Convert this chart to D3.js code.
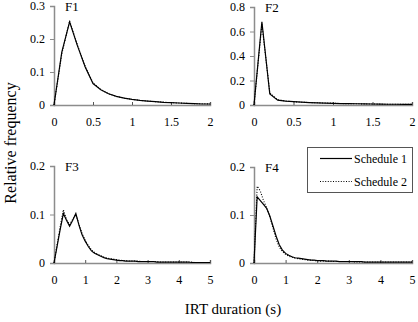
<!DOCTYPE html>
<html><head><meta charset="utf-8">
<script src="https://cdn.jsdelivr.net/npm/d3@7"></script>
<style>body{margin:0;background:#fff}svg{display:block}svg text{font-family:'Liberation Serif','Times New Roman',Times,'DejaVu Serif',serif !important}</style>
</head><body>
<svg id="c" width="418" height="322"></svg>
<script>
const panelNames = ["F1","F2","F3","F4"];
const xMax = [2, 2, 5, 5];
const yMax = [0.3, 0.8, 0.2, 0.2];
const xTicks = [[0,0.5,1,1.5,2],[0,0.5,1,1.5,2],[0,1,2,3,4,5],[0,1,2,3,4,5]];
const yTicks = [[0,0.1,0.2,0.3],[0,0.2,0.4,0.6,0.8],[0,0.1,0.2],[0,0.1,0.2]];
const seriesNames = ["Schedule 1","Schedule 2"];
// bin centers: step 0.1
const f1s1 = [0,0.16,0.252,0.18,0.115,0.065,0.046,0.034,0.026,0.021,0.017,0.014,0.012,0.01,0.008,0.007,0.006,0.005,0.004,0.003,0.003];
const f1s2 = [0,0.155,0.255,0.182,0.117,0.067,0.047,0.034,0.026,0.021,0.017,0.014,0.012,0.01,0.009,0.007,0.006,0.005,0.004,0.004,0.003];
const f2s1 = [0,0.68,0.09,0.04,0.032,0.027,0.023,0.02,0.018,0.016,0.014,0.012,0.011,0.01,0.009,0.008,0.007,0.006,0.006,0.005,0.005];
const f2s2 = [0,0.66,0.1,0.042,0.033,0.027,0.023,0.02,0.018,0.016,0.015,0.012,0.011,0.01,0.009,0.008,0.007,0.006,0.006,0.005,0.005];
const f3s1 = [0,0.035,0.07,0.102,0.088,0.076,0.088,0.102,0.078,0.058,0.045,0.034,0.025,0.02,0.017,0.014,0.011,0.009,0.008,0.007,0.006,
  0.005,0.005,0.004,0.004,0.004,0.004,0.003,0.003,0.003,0.003,0.003,0.003,0.002,0.002,0.002,0.002,0.002,0.002,0.002,0.002,
  0.002,0.002,0.002,0.001,0.001,0.001,0.001,0.001,0.001,0.001];
const f3s2 = [0,0.038,0.075,0.11,0.09,0.079,0.09,0.1,0.08,0.061,0.047,0.036,0.027,0.022,0.018,0.015,0.012,0.01,0.009,0.008,0.007,
  0.006,0.005,0.005,0.004,0.004,0.004,0.004,0.003,0.003,0.003,0.003,0.003,0.003,0.002,0.002,0.002,0.002,0.002,0.002,0.002,
  0.002,0.002,0.002,0.002,0.001,0.001,0.001,0.001,0.001,0.001];
const f4s1 = [0,0.138,0.13,0.122,0.114,0.098,0.077,0.056,0.038,0.027,0.02,0.016,0.013,0.011,0.01,0.009,0.008,0.007,0.006,0.006,0.005,
  0.005,0.005,0.004,0.004,0.004,0.004,0.003,0.003,0.003,0.003,0.003,0.003,0.003,0.003,0.002,0.002,0.002,0.002,0.002,0.002,
  0.002,0.002,0.002,0.002,0.002,0.002,0.002,0.002,0.002,0.002];
const f4s2 = [0,0.16,0.15,0.13,0.115,0.097,0.073,0.05,0.033,0.024,0.018,0.014,0.012,0.01,0.009,0.008,0.007,0.006,0.006,0.005,0.005,
  0.004,0.004,0.004,0.004,0.003,0.003,0.003,0.003,0.003,0.003,0.003,0.002,0.002,0.002,0.002,0.002,0.002,0.002,0.002,0.002,
  0.002,0.002,0.002,0.002,0.002,0.002,0.002,0.002,0.002,0.002];
const panelData = [[f1s1,f1s2],[f2s1,f2s2],[f3s1,f3s2],[f4s1,f4s2]];
const binStep = 0.1;

const FONT = "'Liberation Serif','Times New Roman',Times,'DejaVu Serif',serif";
const svg = d3.select("#c").attr("font-family", FONT);
const boxes = [
  {x0:54,x1:210,y0:105,y1:6},
  {x0:254,x1:412,y0:105,y1:7},
  {x0:54,x1:210,y0:263,y1:166},
  {x0:254,x1:412,y0:263,y1:167}
];
const axisCol = "#8c8c8c";

panelNames.forEach((name,i)=>{
  const b = boxes[i];
  const x = d3.scaleLinear().domain([0,xMax[i]]).range([b.x0,b.x1]);
  const y = d3.scaleLinear().domain([0,yMax[i]]).range([b.y0,b.y1]);
  const g = svg.append("g");
  const ya = g.append("g").attr("transform",`translate(${b.x0},0)`)
    .call(d3.axisLeft(y).tickValues(yTicks[i]).tickSize(4).tickPadding(5).tickFormat(d3.format("")));
  ya.attr("font-family", FONT);
  ya.select(".domain").attr("stroke",axisCol).attr("stroke-width",1.5);
  ya.selectAll(".tick line").attr("stroke",axisCol);
  ya.selectAll("text").attr("font-size",12).attr("fill","#000").attr("font-family",FONT);
  const xa = g.append("g").attr("transform",`translate(0,${b.y0})`)
    .call(d3.axisBottom(x).tickValues(xTicks[i]).tickSize(-3).tickPadding(12).tickFormat(d3.format("")));
  xa.attr("font-family", FONT);
  xa.select(".domain").attr("stroke",axisCol).attr("stroke-width",1.5);
  xa.selectAll(".tick line").attr("stroke","#555");
  xa.selectAll("text").attr("font-size",12).attr("fill","#000").attr("font-family",FONT);
  const line = d3.line().x((d,k)=>x(k*binStep)).y(d=>y(d));
  panelData[i].forEach((arr,s)=>{
    g.append("path").datum(arr).attr("d",line).attr("fill","none")
      .attr("stroke","#000").attr("stroke-width",s===0?1.2:1.1)
      .attr("stroke-dasharray",s===0?null:"1,1.6");
  });
  g.append("text").attr("x",b.x0+11).attr("y",b.y1+5).attr("font-size",13).attr("font-family",FONT).text(name);
});

const lg = svg.append("g");
lg.append("rect").attr("x",307.5).attr("y",147.5).attr("width",105).attr("height",45)
  .attr("fill","#fff").attr("stroke","#555").attr("stroke-width",1);
seriesNames.forEach((n,s)=>{
  const yy = 158.5 + s*23;
  lg.append("line").attr("x1",320).attr("x2",352).attr("y1",yy).attr("y2",yy)
    .attr("stroke","#000").attr("stroke-width",s===0?1.2:1.1).attr("stroke-dasharray",s===0?null:"1,1.6");
  lg.append("text").attr("x",354).attr("y",yy+4).attr("font-size",12).attr("font-family",FONT).text(n);
});

svg.append("text").attr("transform","translate(16,143) rotate(-90)").attr("text-anchor","middle")
  .attr("font-size",16).attr("font-family",FONT).text("Relative frequency");
svg.append("text").attr("x",233).attr("y",314).attr("text-anchor","middle").attr("font-size",15).attr("font-family",FONT).text("IRT duration (s)");
</script>
</body></html>
